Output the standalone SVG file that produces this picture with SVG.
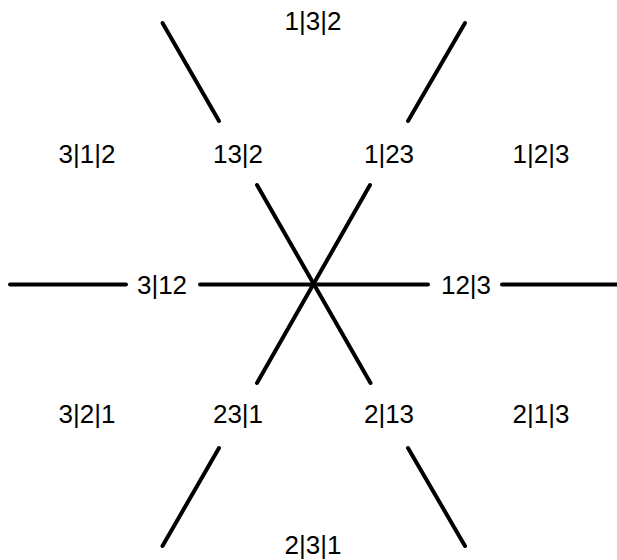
<svg xmlns="http://www.w3.org/2000/svg" width="617" height="560" viewBox="0 0 617 560">
<style>
.e{stroke:#000;stroke-width:4;stroke-linecap:round;fill:none}
text{font-family:"Liberation Sans",Arial,sans-serif;font-size:26px;fill:#000;text-anchor:middle}
</style>
<rect width="617" height="560" fill="#fff"/>
<g id="connectors">
<line class="e" x1="10" y1="284.5" x2="126" y2="284.5"/>
<line class="e" x1="200" y1="284.5" x2="428" y2="284.5"/>
<line class="e" x1="502" y1="284.5" x2="617" y2="284.5"/>
<line class="e" x1="162.5" y1="23" x2="219" y2="121"/>
<line class="e" x1="257" y1="185" x2="370.5" y2="383"/>
<line class="e" x1="408" y1="448" x2="465" y2="546"/>
<line class="e" x1="465" y1="23" x2="408" y2="121"/>
<line class="e" x1="370" y1="185" x2="257" y2="383"/>
<line class="e" x1="219" y1="448" x2="162.5" y2="546"/>
</g>
<g id="n132"><text x="313" y="30">1|3|2</text></g>
<g id="n312"><text x="87" y="163">3|1|2</text></g>
<g id="n13_2"><text x="238" y="163">13|2</text></g>
<g id="n1_23"><text x="389" y="163">1|23</text></g>
<g id="n123"><text x="541" y="163">1|2|3</text></g>
<g id="n3_12"><text x="162" y="294">3|12</text></g>
<g id="n12_3"><text x="466" y="294">12|3</text></g>
<g id="n321"><text x="87" y="423">3|2|1</text></g>
<g id="n23_1"><text x="238" y="423">23|1</text></g>
<g id="n2_13"><text x="389" y="423">2|13</text></g>
<g id="n213"><text x="541" y="423">2|1|3</text></g>
<g id="n231"><text x="313" y="554">2|3|1</text></g>
</svg>
